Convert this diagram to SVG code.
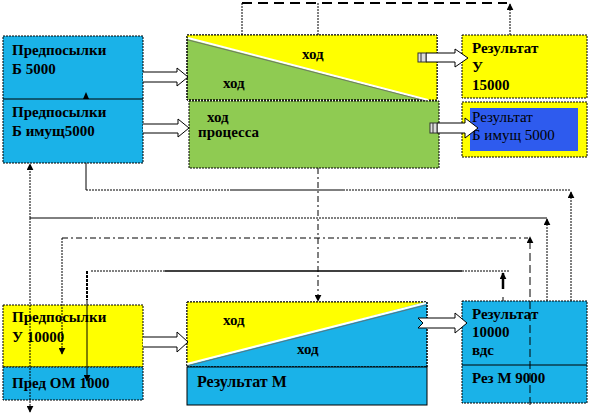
<svg xmlns="http://www.w3.org/2000/svg" width="590" height="417" viewBox="0 0 590 417">
<style>
  .b { font-family: "Liberation Serif", serif; font-weight: bold; font-size: 15px; fill: #000; }
  .s { font-family: "Liberation Serif", serif; font-weight: bold; font-size: 15px; fill: #000; }
  .m { font-family: "Liberation Serif", serif; font-weight: bold; font-size: 16px; fill: #000; }
  .n { font-family: "Liberation Serif", serif; font-size: 15px; fill: #000; }
  .box { stroke: #000; stroke-width: 1; stroke-dasharray: 2 1; }
  .cyan { fill: #1AB2E8; }
  .yel { fill: #FFFF00; }
  .grn { fill: #8FCB52; }
  .ln { fill: none; stroke: #000; stroke-width: 1; }
  .dot { fill: none; stroke: #000; stroke-width: 1; stroke-dasharray: 2 1; }
  .dash { fill: none; stroke: #000; stroke-width: 1; stroke-dasharray: 8 4; }
  .dd { fill: none; stroke: #000; stroke-width: 1; stroke-dasharray: 6 3 2 3; }
  .bar { fill: #fff; stroke: #000; stroke-width: 1; }
  .diag { fill: none; stroke: #fff; stroke-width: 2; }
  .diag2 { fill: none; stroke: #666; stroke-width: 0.8; }
</style>
<defs>
  <marker id="ah" viewBox="0 0 10 10" refX="9" refY="5" markerWidth="7" markerHeight="7" orient="auto-start-reverse" markerUnits="userSpaceOnUse">
    <path d="M0,0 L10,5 L0,10 z" fill="#000"/>
  </marker>
</defs>
<rect width="590" height="417" fill="#fff"/>

<g id="pre-b">
  <rect class="cyan box" x="3" y="36" width="140" height="127"/>
  <line class="ln" x1="3" y1="99" x2="143" y2="99"/>
  <text class="b" x="12" y="55">Предпосылки</text>
  <text class="b" x="12" y="74">Б 5000</text>
  <text class="b" x="12" y="117">Предпосылки</text>
  <text class="b" x="12" y="136">Б имущ5000</text>
</g>

<g id="process-top">
  <rect class="grn box" x="187" y="35" width="250" height="65"/>
  <polygon class="yel" points="187,35 437,35 437,100 428,100 187,37"/>
  <rect class="box" x="187" y="35" width="250" height="65" fill="none"/>
  <line class="diag" x1="188" y1="38" x2="428" y2="100"/>
  <line class="diag2" x1="188" y1="40" x2="426" y2="101"/>
  <text class="s" x="302" y="59">ход</text>
  <text class="s" x="223" y="88">ход</text>
  <rect class="grn box" x="189" y="101" width="250" height="67"/>
  <text class="s" x="207" y="122">ход</text>
  <text class="s" x="198" y="137">процесса</text>
</g>

<g id="res-u">
  <rect class="yel box" x="462" y="35" width="125" height="63"/>
  <text class="b" x="472" y="53">Результат</text>
  <text class="b" x="472" y="72">У</text>
  <text class="b" x="472" y="90">15000</text>
</g>

<g id="res-b">
  <rect class="yel box" x="462" y="102" width="125" height="55"/>
  <rect x="470" y="108" width="108" height="43" fill="#2E5BEE"/>
  <text class="n" x="472" y="122">Результат</text>
  <text class="n" x="472" y="140">Б имущ  5000</text>
</g>

<g id="pre-u">
  <rect class="yel box" x="3" y="305" width="140" height="62"/>
  <rect class="cyan box" x="3" y="367" width="140" height="33"/>
  <text class="b" x="12" y="322">Предпосылки</text>
  <text class="b" x="12" y="342">У  10000</text>
  <text class="b" x="12" y="388">Пред ОМ  1000</text>
</g>

<g id="process-bottom">
  <rect class="cyan box" x="187" y="302" width="240" height="65"/>
  <polygon class="yel" points="187,302 425,302 187,365"/>
  <rect class="box" x="187" y="302" width="240" height="65" fill="none"/>
  <line class="diag" x1="187" y1="364" x2="426" y2="303"/>
  <line class="diag2" x1="187" y1="366" x2="426" y2="305"/>
  <text class="s" x="223" y="325">ход</text>
  <text class="s" x="297" y="354">ход</text>
  <rect class="cyan" x="187" y="367" width="240" height="38" stroke="#000" stroke-width="1"/>
  <text class="m" x="197" y="387">Результат  М</text>
</g>

<g id="res-m">
  <rect class="cyan box" x="462" y="301" width="125" height="102"/>
  <line class="ln" x1="462" y1="365" x2="587" y2="365"/>
  <text class="b" x="472" y="319">Результат</text>
  <text class="b" x="472" y="337">10000</text>
  <text class="b" x="472" y="355">вдс</text>
  <text class="b" x="472" y="383">Рез  М 9000</text>
</g>

<g id="connectors">
  <path class="bar" d="M143,72 H177 V68 L188,77 L177,86 V82 H143"/>
  <path class="bar" d="M143,124 H178 V119 L189,128 L178,137 V133 H143"/>
  <path class="bar" d="M143,337 H177 V332 L188,342 L177,352 V347 H143"/>
  <path class="bar" d="M426,53 H455 V49 L468,58 L455,67 V62 H426 z"/>
  <rect x="418" y="53" width="8" height="9" fill="#ddd" stroke="#333" stroke-width="1"/>
  <line x1="421" y1="53" x2="421" y2="62" stroke="#333" stroke-width="1"/>
  <path class="bar" d="M437,123 H465 V118 L478,128 L465,138 V133 H437 z"/>
  <rect x="430" y="123" width="7" height="10" fill="#ddd" stroke="#333" stroke-width="1"/>
  <line x1="433" y1="123" x2="433" y2="133" stroke="#333" stroke-width="1"/>
  <path class="bar" d="M418,318 H455 V313 L467,323 L455,333 V328 H418 L423,323 z"/>

  <line x1="242" y1="3" x2="507" y2="3" stroke="#000" stroke-width="2" stroke-dasharray="10 6"/>
  <line class="dot" x1="242" y1="3" x2="242" y2="35"/>
  <line class="dot" x1="318" y1="3" x2="318" y2="35"/>
  <line class="dot" x1="510" y1="35" x2="510" y2="4" marker-end="url(#ah)"/>

  <path d="M83,99 L86,92 L89,99 z" fill="#000"/>

  <line class="ln" x1="86" y1="163" x2="86" y2="190"/>
  <line class="dot" x1="86" y1="190" x2="230" y2="190"/>
  <line class="ln" x1="230" y1="190" x2="343" y2="190"/>
  <line class="dot" x1="343" y1="190" x2="571" y2="190"/>
  <line class="dot" x1="571" y1="301" x2="571" y2="192" marker-end="url(#ah)"/>

  <line class="dot" x1="30" y1="218" x2="30" y2="164" marker-end="url(#ah)"/>
  <line class="dot" x1="30" y1="218" x2="30" y2="412" marker-end="url(#ah)"/>
  <line class="ln" x1="30" y1="218" x2="91" y2="218"/>
  <line class="dot" x1="91" y1="218" x2="457" y2="218"/>
  <line class="ln" x1="457" y1="218" x2="547" y2="218"/>
  <line class="dot" x1="547" y1="301" x2="547" y2="219" marker-end="url(#ah)"/>

  <line class="dot" x1="62" y1="238" x2="62" y2="354" marker-end="url(#ah)"/>
  <line class="dd" x1="62" y1="238" x2="528" y2="238"/>
  <line class="dash" x1="530" y1="405" x2="530" y2="237" marker-end="url(#ah)"/>

  <line x1="87" y1="271" x2="87" y2="300" stroke="#000" stroke-width="2" stroke-dasharray="3 1"/>
  <line class="ln" x1="87" y1="300" x2="87" y2="381" marker-end="url(#ah)"/>
  <line class="dot" x1="91" y1="271" x2="165" y2="271"/>
  <line x1="165" y1="271" x2="462" y2="271" stroke="#000" stroke-width="1.5"/>
  <line class="dot" x1="462" y1="271" x2="510" y2="271"/>
  <line x1="503" y1="289" x2="503" y2="273" stroke="#000" stroke-width="2.5" marker-end="url(#ah)"/>
  <line class="ln" x1="503" y1="297" x2="503" y2="301"/>

  <line class="dd" x1="318" y1="168" x2="318" y2="301" marker-end="url(#ah)"/>
</g>
</svg>
